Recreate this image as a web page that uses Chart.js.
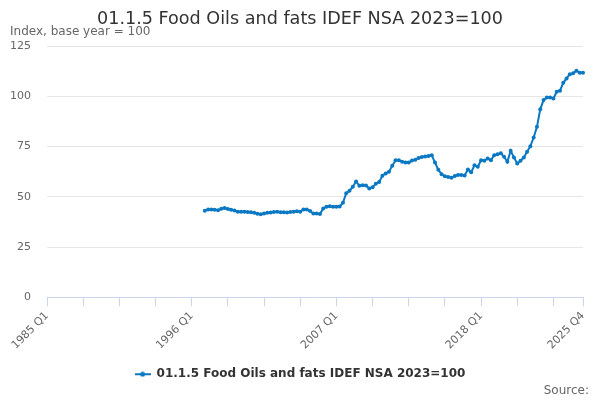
<!DOCTYPE html>
<html lang="en">
<head>
  <meta charset="UTF-8">
  <title>01.1.5 Food Oils and fats IDEF NSA 2023=100</title>
  <script src="https://cdn.jsdelivr.net/npm/chart.js"></script>
  <style>
    body {
      margin: 0;
      background: #fff;
    }
    #wrap {
      width: 600px;
      height: 400px;
      position: relative;
    }
  </style>
</head>
<body>
  <div id="wrap">
    <canvas id="chart" width="600" height="400"></canvas>
  </div>

  <script>
    // quarterly index values, 1997 Q1 .. 2025 Q4
    const firstYear = 1985;
    const lastYear = 2025;
    const seriesStart = '1997 Q1';
    const values = [
      43.0, 43.7, 43.7, 43.6,
      43.3, 44.0, 44.4, 43.9,
      43.6, 43.2, 42.6, 42.5,
      42.5, 42.4, 42.3, 42.0,
      41.6, 41.3, 41.7, 42.1,
      42.2, 42.4, 42.5, 42.3,
      42.3, 42.2, 42.4, 42.6,
      42.8, 42.6, 43.7, 43.7,
      42.9, 41.7, 41.7, 41.4,
      44.2, 45.1, 45.3, 45.0,
      45.0, 45.2, 47.0, 51.8,
      53.0, 55.0, 57.6, 55.5,
      55.8, 55.6, 54.1, 54.8,
      56.5, 57.4, 60.5, 61.6,
      62.5, 65.5, 68.2, 68.2,
      67.4, 67.1, 67.1, 68.0,
      68.4, 69.3, 69.8, 70.1,
      70.3, 70.7, 67.0, 63.5,
      61.2, 60.2, 59.9, 59.5,
      60.3, 60.9, 60.8, 60.6,
      63.6, 62.2, 65.7, 64.9,
      68.2, 67.9, 69.1, 68.2,
      70.7, 71.2, 71.6, 69.9,
      67.4, 72.9, 69.6, 66.6,
      67.9, 69.6, 72.4, 75.2,
      79.5, 84.8, 93.5, 98.1,
      99.4, 99.4, 98.9, 102.2,
      102.8, 106.7, 108.9, 111.0,
      111.4, 112.7, 111.7, 111.7
    ];
    const shownLabels = ['1985 Q1', '1996 Q1', '2007 Q1', '2018 Q1', '2025 Q4'];
    const yTicks = [0, 25, 50, 75, 100, 125];
    const seriesName = '01.1.5 Food Oils and fats IDEF NSA 2023=100';

    const blue = '#0a78c2';

    // category labels for every quarter of the axis
    const quarters = [];
    for (let y = firstYear; y <= lastYear; y++) {
      for (let q = 1; q <= 4; q++) quarters.push(y + ' Q' + q);
    }
    const offset = quarters.indexOf(seriesStart);
    const data = quarters.map((q, i) => (i < offset ? null : values[i - offset]));

    // legend symbol: short line with a dot
    const sym = document.createElement('canvas');
    sym.width = 16;
    sym.height = 6;
    const sctx = sym.getContext('2d');
    sctx.strokeStyle = blue;
    sctx.lineWidth = 2;
    sctx.beginPath();
    sctx.moveTo(0, 3);
    sctx.lineTo(16, 3);
    sctx.stroke();
    sctx.fillStyle = blue;
    sctx.beginPath();
    sctx.arc(8, 3, 2.5, 0, Math.PI * 2);
    sctx.fill();

    const sourceText = {
      id: 'sourceText',
      afterDraw(chart) {
        const c = chart.ctx;
        c.save();
        c.font = '12px "DejaVu Sans"';
        c.fillStyle = '#666';
        c.textAlign = 'right';
        c.textBaseline = 'middle';
        c.fillText('Source:', 589, 391);
        c.restore();
      }
    };

    Chart.defaults.font.family = '"DejaVu Sans", sans-serif';

    new Chart(document.getElementById('chart'), {
      type: 'line',
      data: {
        labels: quarters,
        datasets: [{
          label: seriesName,
          data: data,
          borderColor: blue,
          backgroundColor: blue,
          borderWidth: 2,
          pointRadius: 2,
          pointBorderWidth: 0,
          pointBackgroundColor: blue,
          tension: 0,
          spanGaps: false
        }]
      },
      options: {
        responsive: false,
        animation: false,
        layout: {
          padding: { left: 10, right: 10, top: 0, bottom: 9.8 }
        },
        scales: {
          x: {
            type: 'category',
            offset: false,
            afterBuildTicks(scale) {
              const ticks = [];
              for (let i = 0; i < quarters.length - 1; i += 11) ticks.push({ value: i });
              ticks.push({ value: quarters.length - 1 });
              scale.ticks = ticks;
            },
            afterFit(scale) {
              scale.paddingLeft = 0;
              scale.paddingRight = 17;
              scale.height = 60.9;
            },
            ticks: {
              autoSkip: false,
              minRotation: 45,
              maxRotation: 45,
              color: '#666',
              font: { size: 11 },
              padding: 3,
              callback(value) {
                const l = this.getLabelForValue(value);
                return shownLabels.includes(l) ? l : '';
              }
            },
            grid: {
              drawOnChartArea: false,
              drawTicks: true,
              tickLength: 9,
              color: '#ccd6eb'
            },
            border: { display: true, color: '#ccd6eb' }
          },
          y: {
            min: 0,
            max: 125,
            afterBuildTicks(scale) {
              scale.ticks = yTicks.map(v => ({ value: v }));
            },
            afterFit(scale) {
              scale.width = 37;
            },
            ticks: {
              color: '#666',
              font: { size: 11 },
              padding: 16
            },
            grid: {
              color: '#e6e6e6',
              drawTicks: false
            },
            border: { display: false }
          }
        },
        plugins: {
          title: {
            display: true,
            text: '01.1.5 Food Oils and fats IDEF NSA 2023=100',
            color: '#333',
            font: { size: 17.6, weight: 'normal' },
            padding: { top: 9, bottom: -5 }
          },
          subtitle: {
            display: true,
            text: 'Index, base year = 100',
            align: 'start',
            color: '#666',
            font: { size: 12 },
            padding: { top: 0, bottom: 6.5 }
          },
          legend: {
            position: 'bottom',
            labels: {
              usePointStyle: true,
              pointStyleWidth: 16,
              color: '#333',
              font: { size: 12, weight: 'bold' },
              generateLabels(chart) {
                const ds = chart.data.datasets[0];
                return [{
                  text: ds.label,
                  pointStyle: sym,
                  fontColor: '#333',
                  datasetIndex: 0,
                  hidden: false
                }];
              }
            }
          },
          tooltip: { enabled: false }
        }
      },
      plugins: [sourceText]
    });
  </script>
</body>
</html>
